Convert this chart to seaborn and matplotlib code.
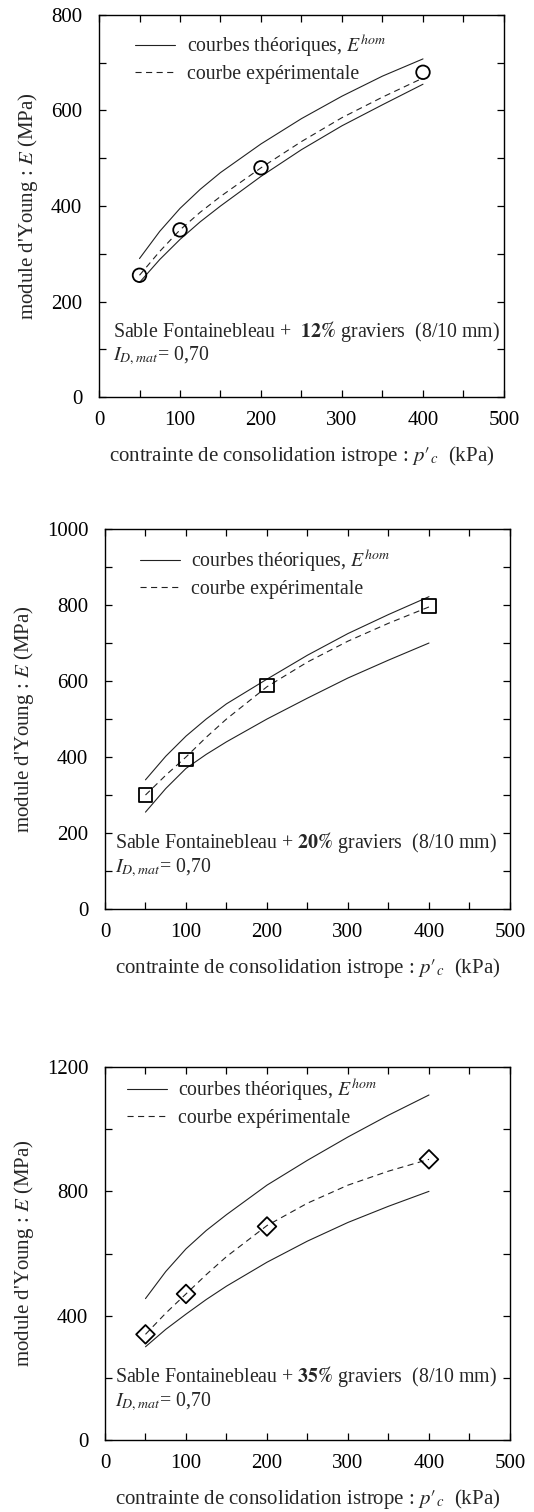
import numpy as np
import pandas as pd
import seaborn as sns
import matplotlib.pyplot as plt
from matplotlib.ticker import MultipleLocator, FuncFormatter
from matplotlib.lines import Line2D

# ---------------- data ----------------
x_curve = [50, 75, 100, 125, 150, 200, 250, 300, 350, 400]
x_points = [50, 100, 200, 400]

# panel 1 : 12% graviers
p1_upper = [290, 347, 395, 435, 470, 530, 583, 630, 672, 708]
p1_lower = [240, 288, 330, 367, 400, 462, 518, 568, 612, 655]
p1_exp = [255, 305, 350, 387, 420, 480, 535, 585, 628, 668]
p1_points = [255, 350, 480, 680]

# panel 2 : 20% graviers
p2_upper = [340, 402, 455, 500, 540, 605, 668, 725, 775, 822]
p2_lower = [255, 317, 370, 407, 440, 500, 555, 608, 655, 700]
p2_exp = [300, 352, 400, 452, 500, 585, 650, 705, 752, 795]
p2_points = [300, 393, 588, 797]

# panel 3 : 35% graviers
p3_upper = [455, 542, 615, 674, 725, 820, 900, 975, 1045, 1110]
p3_lower = [300, 356, 405, 452, 495, 572, 640, 700, 752, 800]
p3_exp = [340, 408, 470, 532, 590, 690, 762, 820, 865, 903]
p3_points = [340, 470, 687, 903]

pct_labels = ["12%", "20%", "35%"]
markers = ["o", "s", "D"]
ymax = [800, 1000, 1200]
ytick_step = [100, 100, 200]
ylabel_step = [200, 200, 400]

legend_theo = "courbes théoriques, $E^{hom}$"
legend_exp = "courbe expérimentale"
xlabel = "contrainte de consolidation istrope : $p\\prime_{c}$  (kPa)"
ylabel = "module d'Young : $E$ (MPa)"

# ---------------- style ----------------
sns.set_style("ticks")
plt.rcParams['font.family'] = ['Liberation Serif', 'DejaVu Serif']
plt.rcParams['mathtext.fontset'] = 'stix'
plt.rcParams['axes.linewidth'] = 1.0

fig = plt.figure(figsize=(5.34, 15.12), dpi=100)
positions = [
    [0.1854, 0.7374, 0.7584, 0.2527],
    [0.1966, 0.3988, 0.7584, 0.2513],
    [0.1966, 0.0476, 0.7584, 0.2467],
]

panels = [
    (p1_upper, p1_lower, p1_exp, p1_points),
    (p2_upper, p2_lower, p2_exp, p2_points),
    (p3_upper, p3_lower, p3_exp, p3_points),
]

text_pos = [(0.035, 0.172, 0.108), (0.025, 0.174, 0.108), (0.025, 0.169, 0.103)]
leg_anchor = [(0.089, 0.955), (0.086, 0.952), (0.054, 0.975)]

FS_TICK = 15
FS_LAB = 15
FS_TXT = 14.3
DASH = (0, (5.5, 4))
for i, (up, lo, ex, pts) in enumerate(panels):
    ax = fig.add_axes(positions[i])
    dfc = pd.DataFrame({"x": x_curve, "up": up, "lo": lo, "ex": ex})
    dfp = pd.DataFrame({"x": x_points, "y": pts})
    sns.lineplot(data=dfc, x="x", y="up", ax=ax, color="#222222", lw=0.8)
    sns.lineplot(data=dfc, x="x", y="lo", ax=ax, color="#222222", lw=0.8)
    sns.lineplot(data=dfc, x="x", y="ex", ax=ax, color="#222222", lw=0.8,
                 linestyle=DASH)
    sns.scatterplot(data=dfp, x="x", y="y", ax=ax, marker=markers[i],
                    s=95 if i < 2 else 90, facecolor="none", edgecolor="black",
                    linewidth=1.3, zorder=5)

    ax.set_xlim(0, 500)
    ax.set_ylim(0, ymax[i])
    ax.xaxis.set_major_locator(MultipleLocator(50))
    ax.xaxis.set_major_formatter(FuncFormatter(
        lambda v, p: f"{int(v)}" if int(round(v)) % 100 == 0 else ""))
    ax.yaxis.set_major_locator(MultipleLocator(ytick_step[i]))
    st = ylabel_step[i]
    ax.yaxis.set_major_formatter(FuncFormatter(
        lambda v, p, st=st: f"{int(v)}" if int(round(v)) % st == 0 else ""))
    ax.tick_params(direction="in", top=True, right=True, length=5, width=0.9,
                   labelsize=FS_TICK, colors="black")
    ax.tick_params(axis="x", pad=10)
    ax.tick_params(axis="y", pad=12)
    for s in ax.spines.values():
        s.set_color("black")

    ax.set_xlabel(xlabel, fontsize=FS_LAB, labelpad=10)
    ax.set_ylabel(ylabel, fontsize=FS_LAB, labelpad=8)

    tx, ty1, ty2 = text_pos[i]
    sep = "  " if i == 0 else " "
    ax.text(tx, ty1, "Sable Fontainebleau +" + sep + "$\\mathbf{" +
            pct_labels[i].replace('%', '\\%') + "}$ graviers  (8/10 mm)",
            transform=ax.transAxes, fontsize=FS_TXT, va="center", ha="left")
    ax.text(tx, ty2, "$I_{D,mat}$= 0,70", transform=ax.transAxes, fontsize=FS_TXT,
            va="center", ha="left")

    handles = [Line2D([], [], color="#222222", lw=0.8),
               Line2D([], [], color="#222222", lw=0.8, linestyle=DASH)]
    ax.legend(handles, [legend_theo, legend_exp], loc="upper left",
              bbox_to_anchor=leg_anchor[i], frameon=False, fontsize=FS_TXT,
              handlelength=2.0, handletextpad=0.6, labelspacing=0.3,
              borderaxespad=0.0, borderpad=0.0)

fig.savefig("out.png", dpi=100)
